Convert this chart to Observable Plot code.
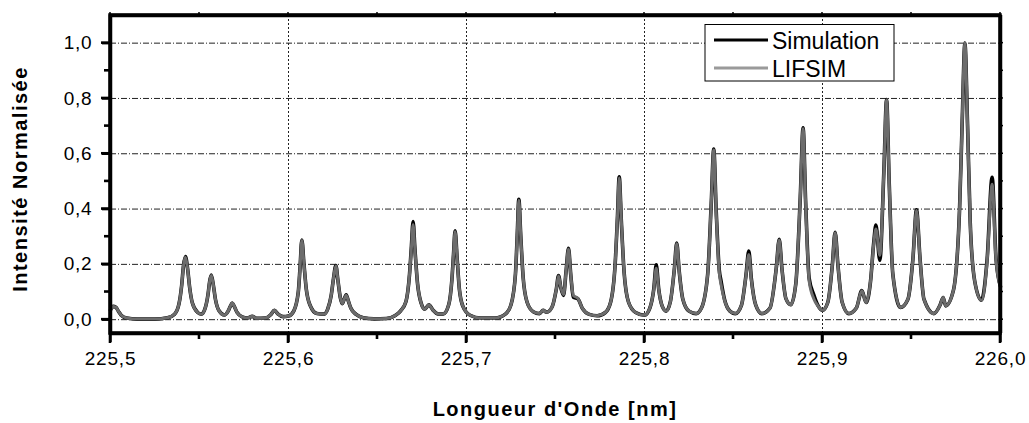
<!DOCTYPE html>
<html>
<head>
<meta charset="utf-8">
<script src="https://cdn.jsdelivr.net/npm/d3@7"></script>
<script src="https://cdn.jsdelivr.net/npm/@observablehq/plot@0.6"></script>
<style>
  html, body { margin: 0; padding: 0; background: #fff; }
  #wrap { position: relative; width: 1029px; height: 423px; overflow: hidden; }
  #wrap svg.overlay { position: absolute; left: 0; top: 0; pointer-events: none; }
</style>
</head>
<body>
<div id="wrap"></div>
<script>
// ---- data ----
const wavelength = [
  225.500, 225.5015, 225.503, 225.5045, 225.506, 225.509, 225.515, 225.525, 225.532, 225.536,
  225.5385, 225.5400, 225.5410, 225.5421, 225.5433, 225.5445, 225.5460, 225.5490, 225.5510, 225.5530,
  225.5548, 225.5557, 225.5566, 225.5577, 225.5590, 225.5610, 225.5640, 225.5660, 225.5673, 225.5684,
  225.5697, 225.5710, 225.5740, 225.5770, 225.5796, 225.5820, 225.5870, 225.5900, 225.5921, 225.5940,
  225.5970, 225.6000, 225.6030, 225.6055, 225.6065, 225.6075, 225.6087, 225.6100, 225.6120, 225.6160,
  225.6200, 225.6220, 225.6240, 225.6253, 225.6266, 225.6278, 225.6291, 225.6302, 225.6313, 225.6324,
  225.6337, 225.6350, 225.6380, 225.6420, 225.6480, 225.6550, 225.6600, 225.6630, 225.6660, 225.6680,
  225.6690, 225.6700, 225.6710, 225.6725, 225.6745, 225.6765, 225.6789, 225.6810, 225.6840, 225.6870,
  225.6900, 225.6918, 225.6927, 225.6936, 225.6948, 225.6960, 225.6980, 225.7020, 225.7080, 225.7160,
  225.7220, 225.7250, 225.7275, 225.7285, 225.7294, 225.7305, 225.7318, 225.7340, 225.7375, 225.7410,
  225.7430, 225.7450, 225.7480, 225.7505, 225.7517, 225.7530, 225.7545, 225.7560, 225.7573, 225.7586,
  225.7600, 225.7626, 225.7650, 225.7690, 225.7734, 225.7780, 225.7810, 225.7835, 225.7848, 225.7858,
  225.7870, 225.7885, 225.7910, 225.7950, 225.8000, 225.8030, 225.8052, 225.8066, 225.8080, 225.8100,
  225.8122, 225.8145, 225.8168, 225.8181, 225.8195, 225.8215, 225.8250, 225.8290, 225.8320, 225.8355,
  225.8375, 225.8389, 225.8403, 225.8420, 225.8430, 225.8450, 225.8480, 225.8510, 225.8545, 225.8570,
  225.8586, 225.8600, 225.8625, 225.8660, 225.8705, 225.8740, 225.8757, 225.8772, 225.8795, 225.8822,
  225.8850, 225.8875, 225.8891, 225.8905, 225.8925, 225.8951, 225.8975, 225.9000, 225.9030, 225.9055,
  225.9071, 225.9087, 225.9110, 225.9148, 225.9190, 225.9221, 225.9245, 225.9270, 225.9288, 225.9300,
  225.9322, 225.9345, 225.9360, 225.9375, 225.9395, 225.9438, 225.9480, 225.9508, 225.9528, 225.9548,
  225.9570, 225.9626, 225.9660, 225.9678, 225.9692, 225.9735, 225.9770, 225.9785, 225.9800, 225.9815,
  225.9830, 225.9855, 225.9893, 225.9925, 225.9953, 225.9975, 226.0000
];
const simulation = [
  0.035, 0.048, 0.045, 0.030, 0.016, 0.006, 0.002, 0.002, 0.007, 0.020,
  0.058, 0.125, 0.195, 0.228, 0.185, 0.115, 0.060, 0.026, 0.020, 0.038,
  0.092, 0.138, 0.161, 0.128, 0.072, 0.032, 0.017, 0.030, 0.048, 0.060,
  0.046, 0.027, 0.010, 0.006, 0.012, 0.005, 0.006, 0.018, 0.034, 0.021,
  0.011, 0.013, 0.032, 0.100, 0.190, 0.288, 0.200, 0.110, 0.054, 0.022,
  0.020, 0.038, 0.088, 0.150, 0.196, 0.140, 0.080, 0.058, 0.074, 0.090,
  0.066, 0.042, 0.019, 0.007, 0.003, 0.004, 0.015, 0.032, 0.066, 0.165,
  0.260, 0.355, 0.258, 0.130, 0.060, 0.038, 0.054, 0.036, 0.021, 0.021,
  0.054, 0.145, 0.235, 0.321, 0.215, 0.110, 0.048, 0.016, 0.006, 0.006,
  0.021, 0.054, 0.165, 0.305, 0.435, 0.300, 0.155, 0.064, 0.029, 0.022,
  0.034, 0.027, 0.045, 0.112, 0.160, 0.115, 0.088, 0.180, 0.258, 0.160,
  0.082, 0.075, 0.042, 0.019, 0.014, 0.026, 0.064, 0.200, 0.370, 0.517,
  0.355, 0.175, 0.064, 0.026, 0.016, 0.042, 0.110, 0.198, 0.110, 0.048,
  0.031, 0.064, 0.185, 0.277, 0.175, 0.075, 0.031, 0.022, 0.042, 0.165,
  0.420, 0.617, 0.390, 0.180, 0.140, 0.072, 0.031, 0.022, 0.053, 0.160,
  0.248, 0.150, 0.053, 0.022, 0.042, 0.185, 0.291, 0.185, 0.075, 0.054,
  0.130, 0.440, 0.694, 0.430, 0.150, 0.090, 0.051, 0.034, 0.063, 0.195,
  0.316, 0.195, 0.064, 0.022, 0.042, 0.105, 0.062, 0.140, 0.280, 0.342,
  0.215, 0.540, 0.796, 0.490, 0.165, 0.044, 0.074, 0.220, 0.397, 0.220,
  0.074, 0.022, 0.052, 0.080, 0.050, 0.105, 0.400, 0.720, 1.000, 0.700,
  0.350, 0.140, 0.070, 0.220, 0.515, 0.220, 0.120
];
const lifsim = [
  0.035, 0.048, 0.045, 0.030, 0.016, 0.006, 0.002, 0.002, 0.007, 0.020,
  0.058, 0.125, 0.195, 0.226, 0.185, 0.115, 0.060, 0.026, 0.020, 0.038,
  0.092, 0.138, 0.160, 0.128, 0.072, 0.032, 0.017, 0.030, 0.048, 0.060,
  0.046, 0.027, 0.010, 0.006, 0.012, 0.005, 0.006, 0.018, 0.034, 0.021,
  0.011, 0.013, 0.032, 0.100, 0.190, 0.286, 0.200, 0.110, 0.054, 0.022,
  0.020, 0.038, 0.088, 0.150, 0.194, 0.140, 0.080, 0.058, 0.074, 0.088,
  0.066, 0.042, 0.019, 0.007, 0.003, 0.004, 0.015, 0.032, 0.066, 0.165,
  0.255, 0.343, 0.253, 0.130, 0.060, 0.038, 0.054, 0.036, 0.021, 0.021,
  0.054, 0.145, 0.235, 0.318, 0.215, 0.110, 0.048, 0.016, 0.006, 0.006,
  0.021, 0.054, 0.165, 0.305, 0.432, 0.300, 0.155, 0.064, 0.029, 0.022,
  0.034, 0.027, 0.045, 0.112, 0.158, 0.117, 0.091, 0.180, 0.255, 0.160,
  0.088, 0.077, 0.042, 0.019, 0.014, 0.026, 0.064, 0.200, 0.370, 0.512,
  0.355, 0.175, 0.064, 0.026, 0.016, 0.042, 0.108, 0.186, 0.108, 0.048,
  0.031, 0.064, 0.185, 0.275, 0.175, 0.075, 0.031, 0.022, 0.042, 0.165,
  0.420, 0.614, 0.385, 0.170, 0.127, 0.070, 0.031, 0.022, 0.053, 0.158,
  0.236, 0.146, 0.053, 0.022, 0.042, 0.185, 0.288, 0.185, 0.075, 0.054,
  0.130, 0.440, 0.690, 0.425, 0.140, 0.076, 0.049, 0.034, 0.063, 0.195,
  0.314, 0.195, 0.064, 0.022, 0.042, 0.105, 0.062, 0.140, 0.275, 0.328,
  0.232, 0.540, 0.794, 0.490, 0.165, 0.044, 0.074, 0.220, 0.395, 0.220,
  0.074, 0.022, 0.052, 0.080, 0.050, 0.105, 0.400, 0.720, 1.000, 0.700,
  0.350, 0.140, 0.070, 0.213, 0.490, 0.213, 0.120
];
const seriesNames = ["Simulation", "LIFSIM"];
const seriesColors = ["#000000", "#6c6c6c"];
const legendColors = ["#000000", "#9a9a9a"];
const xMajorTicks = [225.5, 225.6, 225.7, 225.8, 225.9, 226.0];
const xMinorTicks = [225.55, 225.65, 225.75, 225.85, 225.95];
const xGridTicks = [225.6, 225.7, 225.8, 225.9];
const yMajorTicks = [0.0, 0.2, 0.4, 0.6, 0.8, 1.0];
const yMinorTicks = [0.1, 0.3, 0.5, 0.7, 0.9];
const xDomain = [225.5, 226.0];
const yDomain = [-0.05, 1.1];
const xTitle = "Longueur d'Onde [nm]";
const yTitle = "Intensité Normalisée";

// ---- build table ----
const rows = wavelength.map((w, i) => ({w, sim: simulation[i], lif: lifsim[i]}));
const fmt = d => d.toFixed(1).replace(".", ",");
const FONT = "Liberation Sans, Arial, Helvetica, sans-serif";

const W = 1029, H = 423;
const mL = 110, mR = 29, mT = 15, mB = 90;

const chart = Plot.plot({
  width: W, height: H,
  marginLeft: mL, marginRight: mR, marginTop: mT, marginBottom: mB,
  style: {fontFamily: FONT, fontSize: "19px", letterSpacing: "0.8px", background: "#fff", color: "#000"},
  x: {domain: xDomain},
  y: {domain: yDomain},
  marks: [
    Plot.ruleY(yMajorTicks, {stroke: "#222", strokeWidth: 1, strokeDasharray: "6,2,1,2"}),
    Plot.ruleX(xGridTicks, {stroke: "#222", strokeWidth: 1, strokeDasharray: "2,2"}),
    Plot.line(rows, {x: "w", y: "sim", stroke: seriesColors[0], strokeWidth: 3.6, curve: "monotone-x"}),
    Plot.line(rows, {x: "w", y: "lif", stroke: seriesColors[1], strokeWidth: 3.0, curve: "monotone-x"}),
    Plot.ruleX(xDomain, {stroke: "#000", strokeWidth: 3.5}),
    Plot.ruleY(yDomain, {stroke: "#000", strokeWidth: 3.5}),
    Plot.axisX({ticks: xMajorTicks, tickSize: 9, tickPadding: 9, stroke: "#000", strokeWidth: 2.5, tickFormat: fmt, label: null, fontSize: 19}),
    Plot.axisY({ticks: yMajorTicks, tickSize: 8, tickPadding: 10, stroke: "#000", strokeWidth: 2.5, tickFormat: fmt, label: null, fontSize: 19})
  ]
});

const wrap = document.getElementById("wrap");
wrap.appendChild(chart);

// ---- overlay: frame, minor ticks, axis titles and legend (positions from Plot's scales) ----
const sx = chart.scale("x"), sy = chart.scale("y");
const ns = "http://www.w3.org/2000/svg";
const ov = document.createElementNS(ns, "svg");
ov.setAttribute("class", "overlay");
ov.setAttribute("width", W);
ov.setAttribute("height", H);
function el(tag, attrs, text) {
  const e = document.createElementNS(ns, tag);
  for (const k in attrs) e.setAttribute(k, attrs[k]);
  if (text != null) e.textContent = text;
  ov.appendChild(e);
  return e;
}
const X0 = sx.apply(xDomain[0]), X1 = sx.apply(xDomain[1]);
const Y0 = sy.apply(yDomain[0]), Y1 = sy.apply(yDomain[1]);
// frame
el("rect", {x: X0, y: Y1, width: X1 - X0, height: Y0 - Y1, fill: "none", stroke: "#000", "stroke-width": 3.5});
// bottom ticks (major long, minor short) and small top ticks
xMajorTicks.forEach(t => {
  const px = sx.apply(t);
  el("line", {x1: px, x2: px, y1: Y0, y2: Y0 + 10, stroke: "#000", "stroke-width": 2.6});
  el("line", {x1: px, x2: px, y1: Y1, y2: Y1 - 3, stroke: "#000", "stroke-width": 1.5});
});
xMinorTicks.forEach(t => {
  const px = sx.apply(t);
  el("line", {x1: px, x2: px, y1: Y0, y2: Y0 + 6, stroke: "#000", "stroke-width": 2.6});
  el("line", {x1: px, x2: px, y1: Y1, y2: Y1 - 3, stroke: "#000", "stroke-width": 1.5});
});
// left ticks and small right ticks
yMajorTicks.forEach(t => {
  const py = sy.apply(t);
  el("line", {x1: X0, x2: X0 - 9, y1: py, y2: py, stroke: "#000", "stroke-width": 2.6});
  el("line", {x1: X1, x2: X1 + 3, y1: py, y2: py, stroke: "#000", "stroke-width": 1.5});
});
yMinorTicks.forEach(t => {
  const py = sy.apply(t);
  el("line", {x1: X0, x2: X0 - 6, y1: py, y2: py, stroke: "#000", "stroke-width": 2.6});
  el("line", {x1: X1, x2: X1 + 3, y1: py, y2: py, stroke: "#000", "stroke-width": 1.5});
});
// axis titles
el("text", {x: (X0 + X1) / 2, y: 416, "text-anchor": "middle", "font-family": FONT, "font-size": 20, "font-weight": "bold", "letter-spacing": "1.5"}, xTitle);
el("text", {x: 0, y: 0, transform: `translate(27,${(Y0 + Y1) / 2 + 5}) rotate(-90)`, "text-anchor": "middle", "font-family": FONT, "font-size": 20, "font-weight": "bold", "letter-spacing": "1.5"}, yTitle);

// legend
el("rect", {x: 705, y: 24.5, width: 189, height: 56.5, fill: "#fff", stroke: "#000", "stroke-width": 1});
const legendY = [40, 68];
const textY = [48.5, 76.5];
seriesNames.forEach((name, i) => {
  el("line", {x1: 714, x2: 768, y1: legendY[i], y2: legendY[i], stroke: legendColors[i], "stroke-width": 3});
  el("text", {x: 772, y: textY[i], "font-family": FONT, "font-size": 23, fill: "#000"}, name);
});
wrap.appendChild(ov);
</script>
</body>
</html>
